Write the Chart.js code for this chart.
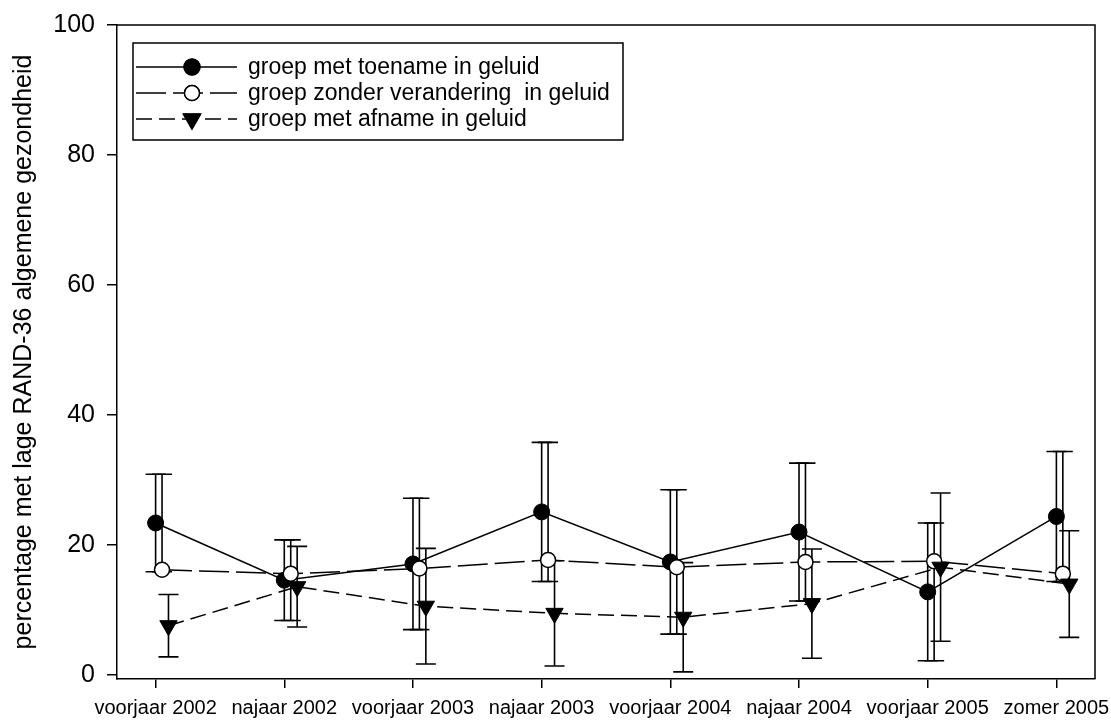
<!DOCTYPE html>
<html>
<head>
<meta charset="utf-8">
<script src="https://cdn.jsdelivr.net/npm/chart.js@4"></script>
<style>
  body { margin: 0; background: #fff; }
</style>
</head>
<body>
<canvas id="chart" width="1111" height="720"></canvas>
<script>
// categories (meetmomenten)
const categories = ['voorjaar 2002', 'najaar 2002', 'voorjaar 2003', 'najaar 2003',
  'voorjaar 2004', 'najaar 2004', 'voorjaar 2005', 'zomer 2005'];

// groep met toename in geluid
const toename = [23.4, 14.6, 17.1, 25.1, 17.4, 22.0, 12.8, 24.4];
const toenameErr = [7.5, 6.2, 10.1, 10.7, 11.1, 10.6, 10.6, 10.0];

// groep zonder verandering in geluid
const zonder = [16.2, 15.6, 16.4, 17.7, 16.6, 17.4, 17.5, 15.6];

// groep met afname in geluid
const afname = [7.6, 13.6, 10.6, 9.5, 8.9, 11.0, 16.6, 14.0];
const afnameErr = [4.8, 6.2, 8.9, 8.1, 8.4, 8.4, 11.4, 8.2];

const yTicks = [0, 20, 40, 60, 80, 100];
const seriesLabels = ['groep met toename in geluid', 'groep zonder verandering  in geluid', 'groep met afname in geluid'];
const yTitle = 'percentage met lage RAND-36 algemene gezondheid';

const FONT = "'Liberation Sans', Arial, sans-serif";

// small horizontal shift per group so the markers don't sit on top of each other
const pts = (vals, shift) => vals.map((v, i) => ({ x: i + shift, y: v }));

// keep the plot box fixed, labels may hang over the edges
const noPad = s => { s.paddingLeft = s.paddingRight = s.paddingTop = s.paddingBottom = 0; };

// error bars drawn under the markers
const errorBars = {
  id: 'errorBars',
  beforeDatasetsDraw(chart) {
    const { ctx, scales: { x, y } } = chart;
    const bar = (xv, lo, hi) => {
      const px = x.getPixelForValue(xv);
      const y1 = y.getPixelForValue(lo), y2 = y.getPixelForValue(hi);
      ctx.beginPath();
      ctx.moveTo(px, y1); ctx.lineTo(px, y2);
      ctx.moveTo(px - 10, y1); ctx.lineTo(px + 10, y1);
      ctx.moveTo(px - 10, y2); ctx.lineTo(px + 10, y2);
      ctx.stroke();
    };
    ctx.save();
    ctx.strokeStyle = '#000';
    ctx.lineWidth = 1.6;
    toename.forEach((v, i) => {
      bar(i, v - toenameErr[i], v + toenameErr[i]);
      bar(i + 0.05, v - toenameErr[i], v + toenameErr[i]);
    });
    afname.forEach((v, i) => bar(i + 0.1, v - afnameErr[i], v + afnameErr[i]));
    ctx.restore();
  }
};

// frame on top/right + legend box
const frameAndLegend = {
  id: 'frameAndLegend',
  afterDraw(chart) {
    const { ctx, chartArea: a } = chart;
    ctx.save();
    ctx.strokeStyle = '#000';
    ctx.lineWidth = 1.5;
    ctx.beginPath();
    ctx.moveTo(a.left, a.top); ctx.lineTo(a.right, a.top); ctx.lineTo(a.right, a.bottom);
    ctx.stroke();

    const bx = a.left + 16, by = a.top + 18, bw = 490, bh = 97;
    ctx.strokeRect(bx, by, bw, bh);
    ctx.font = '23px ' + FONT;
    ctx.fillStyle = '#000';
    ctx.textBaseline = 'middle';
    chart.data.datasets.forEach((ds, i) => {
      const ly = by + 24 + i * 26;
      ctx.lineWidth = 1.5;
      ctx.setLineDash(ds.borderDash || []);
      ctx.beginPath();
      ctx.moveTo(bx + 3, ly); ctx.lineTo(bx + 104, ly);
      ctx.stroke();
      ctx.setLineDash([]);
      Chart.helpers.drawPoint(ctx, {
        pointStyle: ds.pointStyle, rotation: ds.pointRotation || 0,
        radius: ds.pointRadius, borderWidth: ds.pointBorderWidth
      }, bx + 59, ly);
      ctx.fillStyle = ds.pointBackgroundColor;
      ctx.fill();
      ctx.lineWidth = ds.pointBorderWidth;
      ctx.stroke();
      ctx.fillStyle = '#000';
      ctx.fillText(ds.label, bx + 115, ly + 1);
    });
    ctx.restore();
  }
};

new Chart(document.getElementById('chart'), {
  type: 'line',
  data: {
    datasets: [
      {
        label: seriesLabels[0], data: pts(toename, 0),
        borderColor: '#000', borderWidth: 1.5,
        pointStyle: 'circle', pointRadius: 8, pointBackgroundColor: '#000',
        pointBorderColor: '#000', pointBorderWidth: 1, order: 3,
      },
      {
        label: seriesLabels[1], data: pts(zonder, 0.05),
        borderColor: '#000', borderWidth: 1.5, borderDash: [30, 7],
        pointStyle: 'circle', pointRadius: 7.5, pointBackgroundColor: '#fff',
        pointBorderColor: '#000', pointBorderWidth: 1.5, order: 2,
      },
      {
        label: seriesLabels[2], data: pts(afname, 0.1),
        borderColor: '#000', borderWidth: 1.5, borderDash: [16, 7],
        pointStyle: 'triangle', pointRotation: 180, pointRadius: 10,
        pointBackgroundColor: '#000', pointBorderColor: '#000', pointBorderWidth: 1, order: 1,
      },
    ],
  },
  options: {
    responsive: false,
    animation: false,
    devicePixelRatio: 1,
    layout: { padding: { top: 25, right: 16, left: 0, bottom: 0 } },
    plugins: { legend: { display: false }, tooltip: { enabled: false } },
    scales: {
      x: {
        type: 'linear', min: -0.3, max: 7.3,
        afterBuildTicks: s => { s.ticks = categories.map((c, i) => ({ value: i })); },
        afterFit: s => { s.height = 41; noPad(s); },
        ticks: {
          callback: v => categories[v], maxRotation: 0, autoSkip: false,
          color: '#000', font: { family: FONT, size: 20 }, padding: 8,
        },
        grid: { drawOnChartArea: false, color: '#000', lineWidth: 1.5, tickLength: 9 },
        border: { display: true, color: '#000', width: 1.5 },
      },
      y: {
        min: -0.6, max: 100,
        afterBuildTicks: s => { s.ticks = yTicks.map(v => ({ value: v })); },
        afterFit: s => { s.width = 117; noPad(s); },
        ticks: { color: '#000', font: { family: FONT, size: 25 }, padding: 12 },
        grid: { drawOnChartArea: false, color: '#000', lineWidth: 1.5, tickLength: 10 },
        border: { display: true, color: '#000', width: 1.5 },
        title: {
          display: true, text: yTitle, color: '#000',
          font: { family: FONT, size: 25 }, padding: { top: 9, bottom: 0 },
        },
      },
    },
  },
  plugins: [errorBars, frameAndLegend],
});
</script>
</body>
</html>
